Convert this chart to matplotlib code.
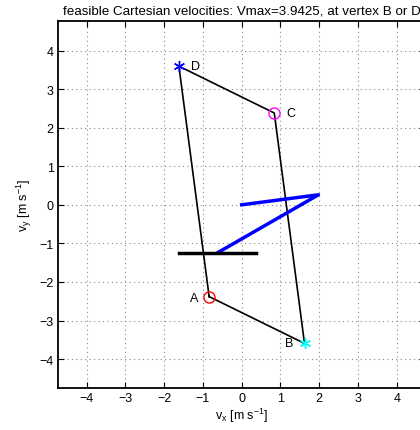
import matplotlib
matplotlib.use("Agg")
import matplotlib.pyplot as plt
import numpy as np

plt.rcParams['font.family'] = ['Liberation Sans', 'DejaVu Sans']
plt.rcParams['mathtext.fontset'] = 'custom'
plt.rcParams['mathtext.rm'] = 'Liberation Sans'
plt.rcParams['mathtext.it'] = 'Liberation Sans'

vertex_names = ['A', 'B', 'C', 'D']
vertex_x = [-0.84, 1.62, 0.84, -1.62]
vertex_y = [-2.38, -3.594, 2.38, 3.594]
path_x = [0.0, 1.98, -0.6]
path_y = [0.0, 0.26, -1.23]
bar_x = [-1.61, 0.37]
bar_y = [-1.24, -1.24]
ticks = [-4, -3, -2, -1, 0, 1, 2, 3, 4]
title = 'feasible Cartesian velocities: Vmax=3.9425, at vertex B or D'

fig = plt.figure(figsize=(4.2, 4.31), dpi=100)
ax = fig.add_axes([0.138, 0.0974, 0.875, 0.852])

px = vertex_x + [vertex_x[0]]
py = vertex_y + [vertex_y[0]]
ax.plot(px, py, color='black', lw=1.2)
ax.plot(path_x, path_y, color='blue', lw=2.5)
ax.plot(bar_x, bar_y, color='black', lw=2.5)

ast = (6, 2, 0)
ax.plot(vertex_x[0], vertex_y[0], 'o', mfc='none', mec='red', ms=8, mew=1)
ax.plot(vertex_x[1], vertex_y[1], marker=ast, color='cyan', ms=8, mew=1, ls='none')
ax.plot(vertex_x[2], vertex_y[2], 'o', mfc='none', mec='magenta', ms=8, mew=1)
ax.plot(vertex_x[3], vertex_y[3], marker=ast, color='blue', ms=8, mew=1, ls='none')

fs = 9
ax.text(vertex_x[0] - 0.28, vertex_y[0] - 0.03, vertex_names[0], ha='right', va='center', fontsize=fs)
ax.text(vertex_x[1] - 0.28, vertex_y[1], vertex_names[1], ha='right', va='center', fontsize=fs)
ax.text(vertex_x[2] + 0.32, vertex_y[2], vertex_names[2], ha='left', va='center', fontsize=fs)
ax.text(vertex_x[3] + 0.32, vertex_y[3], vertex_names[3], ha='left', va='center', fontsize=fs)

ax.set_xlim(-4.74, 4.74)
ax.set_ylim(-4.75, 4.77)
ax.set_xticks(ticks)
ax.set_yticks(ticks)
ax.set_xticklabels(['\u2212%d' % -t if t < 0 else '%d' % t for t in ticks], fontsize=fs)
ax.set_yticklabels(['\u2212%d' % -t if t < 0 else '%d' % t for t in ticks], fontsize=fs)
ax.tick_params(direction='in', length=4, width=0.8, top=True, right=True, pad=3)
ax.grid(True, linestyle=(0, (1, 3)), color='#8a8a8a', lw=0.8)
for s in ax.spines.values():
    s.set_linewidth(1.3)

ax.set_xlabel(r'v$_\mathrm{x}$ [m s$^{-1}$]', fontsize=fs, labelpad=1)
ax.set_ylabel(r'v$_\mathrm{y}$ [m s$^{-1}$]', fontsize=fs, labelpad=4)
ax.set_title(title, fontsize=9.6, pad=5)

fig.savefig('out.png', dpi=100)
